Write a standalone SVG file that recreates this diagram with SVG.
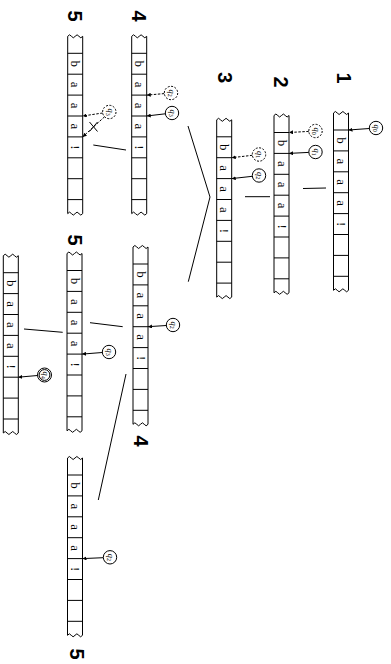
<svg xmlns="http://www.w3.org/2000/svg" xmlns:xlink="http://www.w3.org/1999/xlink" width="391" height="664" viewBox="0 0 391 664">
  <style>
    .frame { fill: none; stroke: #000; stroke-width: 1; }
    .cell { font-family: "Liberation Serif", serif; font-size: 13px; text-anchor: middle; fill: #000; }
    .step { font-family: "Liberation Sans", Arial, sans-serif; font-weight: bold; font-size: 20px; text-anchor: middle; fill: #000; }
    .state { fill: #fff; stroke: #000; stroke-width: 1; }
    .state.prev { stroke-dasharray: 2 1.5; }
    .qlab { font-family: "Liberation Serif", serif; font-style: italic; font-size: 8.5px; text-anchor: middle; fill: #000; }
    .sub { font-size: 6px; font-style: normal; }
    .link { fill: none; stroke: #000; stroke-width: 1; }
    .ptr { fill: none; stroke: #000; stroke-width: 1; marker-end: url(#head); }
    .ptr.prev { stroke-dasharray: 2.5 1.5; }
  </style>
  <defs>
    <marker id="head" viewBox="0 0 6 6" refX="6" refY="3" markerWidth="4" markerHeight="4" orient="auto" markerUnits="userSpaceOnUse">
      <path d="M0,0 L6,3 L0,6 z" fill="#000"/>
    </marker>
    <!-- tape segment: torn ends, sides and cell borders; origin at first cell border -->
    <g id="tape" class="frame">
      <path d="M0,-17 V160.3 M15,-17 V160.3 M0,0 H15 M0,20.9 H15 M0,41.8 H15 M0,62.7 H15 M0,83.6 H15 M0,104.5 H15 M0,125.4 H15 M0,146.3 H15"/>
      <path d="M0,-17 q1.9,-3 3.75,0 t3.75,0 t3.75,0 t3.75,0"/>
      <path d="M0,160.3 q1.9,-3 3.75,0 t3.75,0 t3.75,0 t3.75,0"/>
    </g>
  </defs>

  <!-- step numbers -->
  <g id="labels">
    <text class="step" transform="translate(344.5,78) rotate(90)" dy="0.36em">1</text>
    <text class="step" transform="translate(281.5,82) rotate(90)" dy="0.36em">2</text>
    <text class="step" transform="translate(225.5,77.5) rotate(90)" dy="0.36em">3</text>
    <text class="step" transform="translate(139,16) rotate(90)" dy="0.36em">4</text>
    <text class="step" transform="translate(75,16) rotate(90)" dy="0.36em">5</text>
    <text class="step" transform="translate(75,240) rotate(90)" dy="0.36em">5</text>
    <text class="step" transform="translate(141.5,441) rotate(90)" dy="0.36em">4</text>
    <text class="step" transform="translate(77,654) rotate(90)" dy="0.36em">5</text>
  </g>

  <!-- connectors between configurations, state pointers -->
  <g id="connectors">
    <path class="link" d="M303,188.5 L326,188"/>
    <path class="link" d="M245,196.7 L270,196.7"/>
    <path class="link" d="M188,126 L210,197 L188.3,281.7"/>
    <path class="link" d="M93.3,145 L126,150"/>
    <path class="link" d="M90,322.7 L122.7,326.7"/>
    <path class="link" d="M24,329 L62.7,332.3"/>
    <path class="link" d="M126,374 L98.3,500"/>

    <path class="ptr" d="M369.3,128.5 L348.5,130"/>
    <path class="ptr prev" d="M308.8,131.4 L289,132.5"/>
    <path class="ptr" d="M308.8,152.4 L289,153.4"/>
    <path class="ptr prev" d="M252.4,155.3 L231.7,157.7"/>
    <path class="ptr" d="M252.4,176.3 L231.7,178.6"/>
    <path class="ptr prev" d="M164.3,93.6 L146.7,95.1"/>
    <path class="ptr" d="M165.3,113.8 L146.7,116"/>
    <path class="ptr prev" d="M102.7,113 L82.7,116"/>
    <path class="ptr prev" d="M104.5,116.8 L82.7,136.9"/>
    <path class="link" d="M89.5,122 L97.5,131.5 M89.5,131.5 L97.5,122"/>
    <path class="ptr" d="M166.3,325.5 L148,326.7"/>
    <path class="ptr" d="M102.3,352.5 L82,354.1"/>
    <path class="ptr" d="M37.5,375.5 L18.3,377.2"/>
    <path class="ptr" d="M103.3,557.7 L82.5,558.6"/>
  </g>

  <!-- configuration 1 -->
  <g id="tape1" transform="translate(333.5,130)">
    <use xlink:href="#tape"/>
    <text class="cell" transform="translate(7.5,10.45) rotate(90)" dy="0.3em">b</text>
    <text class="cell" transform="translate(7.5,31.35) rotate(90)" dy="0.3em">a</text>
    <text class="cell" transform="translate(7.5,52.25) rotate(90)" dy="0.3em">a</text>
    <text class="cell" transform="translate(7.5,73.15) rotate(90)" dy="0.3em">a</text>
    <text class="cell" transform="translate(7.5,94.05) rotate(90)" dy="0.3em">!</text>
  </g>
  <g id="state1-q0">
    <circle class="state" cx="376" cy="128" r="6.7"/>
    <text class="qlab" transform="translate(376,128) rotate(90)" dy="0.2em">q<tspan class="sub" dy="1.5">0</tspan></text>
  </g>

  <!-- configuration 2 -->
  <g id="tape2" transform="translate(274,132.5)">
    <use xlink:href="#tape"/>
    <text class="cell" transform="translate(7.5,10.45) rotate(90)" dy="0.3em">b</text>
    <text class="cell" transform="translate(7.5,31.35) rotate(90)" dy="0.3em">a</text>
    <text class="cell" transform="translate(7.5,52.25) rotate(90)" dy="0.3em">a</text>
    <text class="cell" transform="translate(7.5,73.15) rotate(90)" dy="0.3em">a</text>
    <text class="cell" transform="translate(7.5,94.05) rotate(90)" dy="0.3em">!</text>
  </g>
  <g id="state2-q0">
    <circle class="state prev" cx="315.5" cy="131" r="6.7"/>
    <text class="qlab" transform="translate(315.5,131) rotate(90)" dy="0.2em">q<tspan class="sub" dy="1.5">0</tspan></text>
  </g>
  <g id="state2-q1">
    <circle class="state" cx="315.5" cy="152" r="6.7"/>
    <text class="qlab" transform="translate(315.5,152) rotate(90)" dy="0.2em">q<tspan class="sub" dy="1.5">1</tspan></text>
  </g>

  <!-- configuration 3 -->
  <g id="tape3" transform="translate(216.7,136.8)">
    <use xlink:href="#tape"/>
    <text class="cell" transform="translate(7.5,10.45) rotate(90)" dy="0.3em">b</text>
    <text class="cell" transform="translate(7.5,31.35) rotate(90)" dy="0.3em">a</text>
    <text class="cell" transform="translate(7.5,52.25) rotate(90)" dy="0.3em">a</text>
    <text class="cell" transform="translate(7.5,73.15) rotate(90)" dy="0.3em">a</text>
    <text class="cell" transform="translate(7.5,94.05) rotate(90)" dy="0.3em">!</text>
  </g>
  <g id="state3-q1">
    <circle class="state prev" cx="259" cy="154.5" r="6.7"/>
    <text class="qlab" transform="translate(259,154.5) rotate(90)" dy="0.2em">q<tspan class="sub" dy="1.5">1</tspan></text>
  </g>
  <g id="state3-q2">
    <circle class="state" cx="259" cy="175.5" r="6.7"/>
    <text class="qlab" transform="translate(259,175.5) rotate(90)" dy="0.2em">q<tspan class="sub" dy="1.5">2</tspan></text>
  </g>

  <!-- configuration 4, upper branch -->
  <g id="tape4a" transform="translate(131.7,53.3)">
    <use xlink:href="#tape"/>
    <text class="cell" transform="translate(7.5,10.45) rotate(90)" dy="0.3em">b</text>
    <text class="cell" transform="translate(7.5,31.35) rotate(90)" dy="0.3em">a</text>
    <text class="cell" transform="translate(7.5,52.25) rotate(90)" dy="0.3em">a</text>
    <text class="cell" transform="translate(7.5,73.15) rotate(90)" dy="0.3em">a</text>
    <text class="cell" transform="translate(7.5,94.05) rotate(90)" dy="0.3em">!</text>
  </g>
  <g id="state4a-q2">
    <circle class="state prev" cx="171" cy="93" r="6.7"/>
    <text class="qlab" transform="translate(171,93) rotate(90)" dy="0.2em">q<tspan class="sub" dy="1.5">2</tspan></text>
  </g>
  <g id="state4a-q3">
    <circle class="state" cx="172" cy="113" r="6.7"/>
    <text class="qlab" transform="translate(172,113) rotate(90)" dy="0.2em">q<tspan class="sub" dy="1.5">3</tspan></text>
  </g>

  <!-- configuration 5, dead end -->
  <g id="tape5a" transform="translate(67.7,53.3)">
    <use xlink:href="#tape"/>
    <text class="cell" transform="translate(7.5,10.45) rotate(90)" dy="0.3em">b</text>
    <text class="cell" transform="translate(7.5,31.35) rotate(90)" dy="0.3em">a</text>
    <text class="cell" transform="translate(7.5,52.25) rotate(90)" dy="0.3em">a</text>
    <text class="cell" transform="translate(7.5,73.15) rotate(90)" dy="0.3em">a</text>
    <text class="cell" transform="translate(7.5,94.05) rotate(90)" dy="0.3em">!</text>
  </g>
  <g id="state5a-q3">
    <circle class="state prev" cx="109.3" cy="112" r="6.7"/>
    <text class="qlab" transform="translate(109.3,112) rotate(90)" dy="0.2em">q<tspan class="sub" dy="1.5">3</tspan></text>
  </g>

  <!-- configuration 4, lower branch -->
  <g id="tape4b" transform="translate(133,264)">
    <use xlink:href="#tape"/>
    <text class="cell" transform="translate(7.5,10.45) rotate(90)" dy="0.3em">b</text>
    <text class="cell" transform="translate(7.5,31.35) rotate(90)" dy="0.3em">a</text>
    <text class="cell" transform="translate(7.5,52.25) rotate(90)" dy="0.3em">a</text>
    <text class="cell" transform="translate(7.5,73.15) rotate(90)" dy="0.3em">a</text>
    <text class="cell" transform="translate(7.5,94.05) rotate(90)" dy="0.3em">!</text>
  </g>
  <g id="state4b-q2">
    <circle class="state" cx="173" cy="325" r="6.7"/>
    <text class="qlab" transform="translate(173,325) rotate(90)" dy="0.2em">q<tspan class="sub" dy="1.5">2</tspan></text>
  </g>

  <!-- configuration 5 -->
  <g id="tape5b" transform="translate(67,270.5)">
    <use xlink:href="#tape"/>
    <text class="cell" transform="translate(7.5,10.45) rotate(90)" dy="0.3em">b</text>
    <text class="cell" transform="translate(7.5,31.35) rotate(90)" dy="0.3em">a</text>
    <text class="cell" transform="translate(7.5,52.25) rotate(90)" dy="0.3em">a</text>
    <text class="cell" transform="translate(7.5,73.15) rotate(90)" dy="0.3em">a</text>
    <text class="cell" transform="translate(7.5,94.05) rotate(90)" dy="0.3em">!</text>
  </g>
  <g id="state5b-q3">
    <circle class="state" cx="109" cy="352" r="6.7"/>
    <text class="qlab" transform="translate(109,352) rotate(90)" dy="0.2em">q<tspan class="sub" dy="1.5">3</tspan></text>
  </g>

  <!-- accepting configuration -->
  <g id="tape6" transform="translate(3.3,272.7)">
    <use xlink:href="#tape"/>
    <text class="cell" transform="translate(7.5,10.45) rotate(90)" dy="0.3em">b</text>
    <text class="cell" transform="translate(7.5,31.35) rotate(90)" dy="0.3em">a</text>
    <text class="cell" transform="translate(7.5,52.25) rotate(90)" dy="0.3em">a</text>
    <text class="cell" transform="translate(7.5,73.15) rotate(90)" dy="0.3em">a</text>
    <text class="cell" transform="translate(7.5,94.05) rotate(90)" dy="0.3em">!</text>
  </g>
  <g id="state6-q4">
    <circle class="state" cx="44.5" cy="375" r="7" stroke-width="1.6"/>
    <circle class="state" cx="44.5" cy="375" r="5.4"/>
    <text class="qlab" transform="translate(44.5,375) rotate(90)" dy="0.2em">q<tspan class="sub" dy="1.5">4</tspan></text>
  </g>

  <!-- configuration 5, looping branch -->
  <g id="tape5d" transform="translate(67.5,475)">
    <use xlink:href="#tape"/>
    <text class="cell" transform="translate(7.5,10.45) rotate(90)" dy="0.3em">b</text>
    <text class="cell" transform="translate(7.5,31.35) rotate(90)" dy="0.3em">a</text>
    <text class="cell" transform="translate(7.5,52.25) rotate(90)" dy="0.3em">a</text>
    <text class="cell" transform="translate(7.5,73.15) rotate(90)" dy="0.3em">a</text>
    <text class="cell" transform="translate(7.5,94.05) rotate(90)" dy="0.3em">!</text>
  </g>
  <g id="state5d-q2">
    <circle class="state" cx="110" cy="557.3" r="6.7"/>
    <text class="qlab" transform="translate(110,557.3) rotate(90)" dy="0.2em">q<tspan class="sub" dy="1.5">2</tspan></text>
  </g>
</svg>
